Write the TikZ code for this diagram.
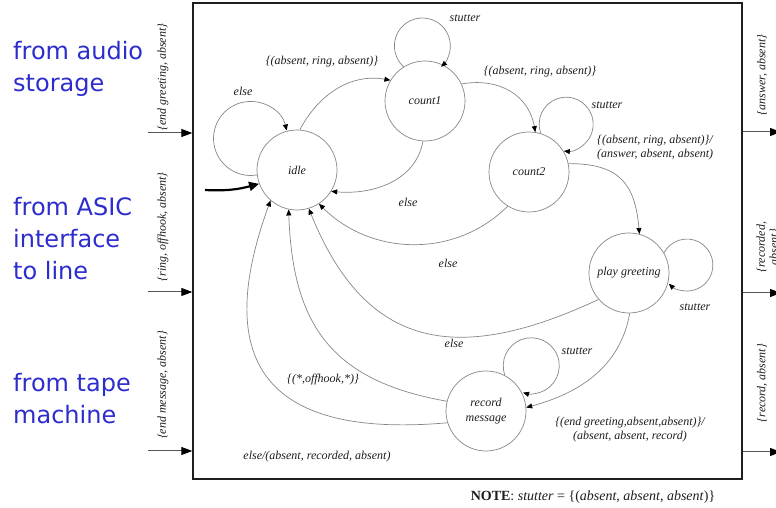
\documentclass[tikz,border=0pt]{standalone}
\usepackage{fontspec}
\setmainfont{Liberation Serif}
\newfontfamily\bluefont{DejaVu Sans}
\usetikzlibrary{arrows.meta}
\definecolor{edgegray}{RGB}{135,135,135}
\definecolor{blueish}{RGB}{45,45,205}
\definecolor{ink}{RGB}{30,30,30}
\begin{document}
\begin{tikzpicture}[x=1pt,y=1pt,
  state/.style={circle, draw=edgegray, line width=0.7pt, minimum size=80pt, inner sep=0pt,
    font=\fontsize{12}{14}\selectfont\itshape, text=ink, align=center},
  edge/.style={draw=edgegray, line width=0.7pt, -{Triangle[length=6pt,width=5pt,color=black]}},
  lbl/.style={font=\fontsize{12}{14}\selectfont\itshape, text=ink, inner sep=0pt, align=center},
  iolbl/.style={lbl, rotate=90},
  io/.style={draw=ink!75, line width=1pt, -{Triangle[length=11pt,width=8pt,color=black]}},
  bluetxt/.style={font=\bluefont\fontsize{24}{32}\selectfont, text=blueish, align=left, anchor=west, inner sep=0pt},
  frame/.style={draw=ink, line width=1.4pt, minimum width=549pt, minimum height=476pt, inner sep=0pt}
]
\useasboundingbox (0,0) rectangle (776,508);
\fill[white] (0,0) rectangle (776,508);

% system box
\node[frame] (sys) at (467.5,267) {};

% states
\node[state] (idle) at (297,338) {idle};
\node[state] (count1) at (425,407) {count1};
\node[state] (count2) at (529,336) {count2};
\node[state] (play) at (629,235) {play greeting};
\node[state, font=\fontsize{12}{15}\selectfont\itshape] (record) at (486,97) {record\\message};

% inputs
\coordinate (in1) at (148,375);
\coordinate (in2) at (148,216);
\coordinate (in3) at (148,57);
\draw[io] (in1) -- (in1 -| sys.west);
\draw[io] (in2) -- (in2 -| sys.west);
\draw[io] (in3) -- (in3 -| sys.west);
\node[iolbl] (il1) at (163,431) {\{end greeting, absent\}};
\node[iolbl] (il2) at (163,281) {\{ring, offhook, absent\}};
\node[iolbl] (il3) at (163,123) {\{end message, absent\}};

% outputs
\coordinate (out1) at (781,376);
\coordinate (out2) at (781,215);
\coordinate (out3) at (781,56);
\draw[io] (out1 -| sys.east) -- (out1);
\draw[io] (out2 -| sys.east) -- (out2);
\draw[io] (out3 -| sys.east) -- (out3);
\node[iolbl] (ol1) at (762,433) {\{answer, absent\}};
\node[iolbl, font=\fontsize{12}{13}\selectfont\itshape] (ol2) at (768,261) {\{recorded,\\absent\}};
\node[iolbl] (ol3) at (762,125) {\{record, absent\}};

% blue side texts
\node[bluetxt] (b1) at (13,439) {from audio\\storage};
\node[bluetxt] (b2) at (13,269) {from ASIC\\interface\\to line};
\node[bluetxt] (b3) at (13,109) {from tape\\machine};

% initial arrow
\coordinate (init) at (205,318);
\draw[draw=black, line width=2.2pt, -{Triangle[length=10pt,width=9pt]}] (init) to[out=-3,in=195] (idle.200);

% self loops (circular arcs starting on the state's border)
\draw[edge] (idle.187) arc[start angle=-80, end angle=-347.5, radius=37];
\draw[edge] (count1.122) arc[start angle=228, end angle=-48, radius=28];
\draw[edge] (count2.73) arc[start angle=200, end angle=-95, radius=27];
\draw[edge] (play.30) arc[start angle=152, end angle=-134, radius=26];
\draw[edge] (record.62) arc[start angle=200, end angle=-107, radius=28];

% transitions
\draw[edge] (idle.86) to[out=62,in=170] (count1.149);
\draw[edge] (count1.267) to[out=260,in=-5] (idle.-32);
\draw[edge] (count1.25) to[out=10,in=100,looseness=1.1] (count2.81);
\draw[edge] (count2.12) to[out=0,in=95,looseness=1.3] (play.75);
\draw[edge] (count2.238) to[out=225,in=-45] (idle.-57);
\draw[edge] (play.221) to[out=205,in=-68,looseness=1.3] (idle.-73);
\draw[edge] (play.-89) to[out=-100,in=15] (record.5);
\draw[edge] (record.166) to[out=170,in=-88,looseness=1.2] (idle.-102);
\draw[edge] (record.197) to[out=185,in=-110,looseness=1.6] (idle.229);

% labels
\node[lbl] (l1) at (243,417) {else};
\node[lbl] (l2) at (322,446) {\{(absent, ring, absent)\}};
\node[lbl] (l3) at (465,490) {stutter};
\node[lbl] (l4) at (408,306) {else};
\node[lbl] (l5) at (540,436) {\{(absent, ring, absent)\}};
\node[lbl] (l6) at (607,403) {stutter};
\node[lbl, align=left, anchor=west] (l7) at (597,360) {\{(absent, ring, absent)\}/\\(answer, absent, absent)};
\node[lbl] (l8) at (448,245) {else};
\node[lbl] (l9) at (454,165) {else};
\node[lbl] (l10) at (695,201) {stutter};
\node[lbl] (l11) at (577,157) {stutter};
\node[lbl] (l12) at (323,128) {\{(*,offhook,*)\}};
\node[lbl] (l13) at (630,78) {\{(end greeting,absent,absent)\}/\\(absent, absent, record)};
\node[lbl] (l14) at (317,51) {else/(absent, recorded, absent)};
\node[font=\fontsize{14}{16}\selectfont, text=ink, inner sep=0pt] (note) at (593,11)
  {\textbf{NOTE}: \textit{stutter} = \{(\textit{absent}, \textit{absent}, \textit{absent})\}};
\end{tikzpicture}
\end{document}
